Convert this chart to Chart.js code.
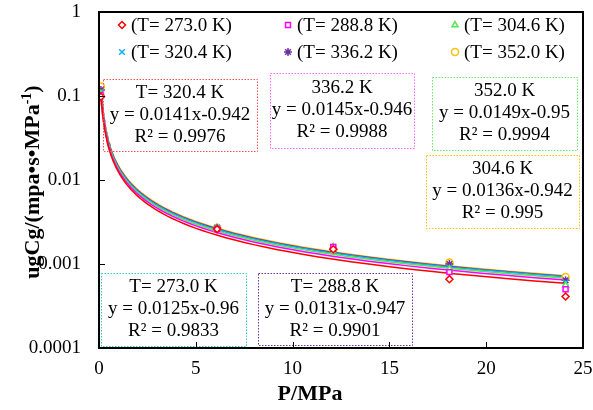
<!DOCTYPE html>
<html lang="en">
<head>
  <meta charset="UTF-8">
  <title>ugCg vs P</title>
  <script src="https://cdn.jsdelivr.net/npm/chart.js"></script>
  <style>
    body { margin: 0; background: #fff; }
    canvas { display: block; }
  </style>
</head>
<body>
<canvas id="chart" width="593" height="410"></canvas>
<script>
  // pressures (MPa) where the points were measured
  const pressures = [0.1, 6.1, 12.1, 18.1, 24.1];
  const temps = ['273.0', '288.8', '304.6', '320.4', '336.2', '352.0'];

  // ugCg values per temperature
  const vals273 = [0.098, 0.0026, 0.0015, 0.00066, 0.00041];
  const vals288 = [0.102, 0.0026, 0.0016, 0.00080, 0.00050];
  const vals304 = [0.106, 0.0026, 0.0016, 0.00087, 0.00056];
  const vals320 = [0.112, 0.0027, 0.0016, 0.00090, 0.00060];
  const vals336 = [0.118, 0.0027, 0.0015, 0.00100, 0.00064];
  const vals352 = [0.130, 0.0027, 0.0015, 0.00104, 0.00070];
  const seriesVals = [vals273, vals288, vals304, vals320, vals336, vals352];

  // power trendlines y = a * x^b as printed on the chart
  const fitA = [0.0125, 0.0131, 0.0136, 0.0141, 0.0145, 0.0149];
  const fitB = [-0.96, -0.947, -0.942, -0.942, -0.946, -0.95];
  const fitR2 = ['0.9833', '0.9901', '0.995', '0.9976', '0.9988', '0.9994'];
  const boxTitles = ['T= 273.0 K', 'T= 288.8 K', '304.6 K', 'T= 320.4 K', '336.2 K', '352.0 K'];

  const xTicks = [0, 5, 10, 15, 20, 25];
  const yTicks = [0.0001, 0.001, 0.01, 0.1, 1];

  const colors = ['#ff0000', '#ff00ff', '#55e655', '#12aef0', '#7030a0', '#ffc000'];
  const boxColors = ['#33cccc', '#7030a0', '#ffc000', '#ff5050', '#ff66ff', '#66ee66'];
  const styles = ['rectRot', 'rect', 'triangle', 'crossRot', 'star', 'circle'];
  // box placement in pixels: [left, top, right, bottom]
  const boxPos = [
    [101, 273, 246, 346],
    [258, 273, 412, 345],
    [426, 155, 579, 228],
    [103, 79, 257, 151],
    [270, 73, 414, 148],
    [432, 77, 577, 150]
  ];

  const serif = '"Liberation Serif", "Times New Roman", serif';

  // sample points along each trendline
  const trendX = [];
  for (let i = 0; i <= 80; i++) {
    trendX.push(0.1 * Math.pow(241, i / 80));
  }

  const datasets = [];
  temps.forEach((t, i) => {
    datasets.push({
      label: '(T= ' + t + ' K)',
      data: pressures.map((p, j) => ({ x: p, y: seriesVals[i][j] })),
      showLine: false,
      pointStyle: styles[i],
      pointRadius: styles[i] === 'crossRot' || styles[i] === 'star' ? 4 : 3.5,
      borderColor: colors[i],
      backgroundColor: '#fff',
      borderWidth: 1.5,
      order: 0
    });
  });
  temps.forEach((t, i) => {
    datasets.push({
      label: 'fit ' + t,
      data: trendX.map(x => ({ x: x, y: fitA[i] * Math.pow(x, fitB[i]) })),
      showLine: true,
      pointRadius: 0,
      borderColor: colors[i],
      borderWidth: 1.5,
      order: 1
    });
  });

  const decorations = {
    id: 'decorations',
    afterDraw(chart) {
      const ctx = chart.ctx;
      const a = chart.chartArea;
      const xs = chart.scales.x, ys = chart.scales.y;
      ctx.save();

      // trendline label boxes
      ctx.font = '19px ' + serif;
      ctx.textAlign = 'center';
      ctx.textBaseline = 'middle';
      boxPos.forEach((b, i) => {
        ctx.strokeStyle = boxColors[i];
        ctx.lineWidth = 1;
        ctx.setLineDash([1.5, 1.5]);
        ctx.strokeRect(b[0] + 0.5, b[1] + 0.5, b[2] - b[0], b[3] - b[1]);
        ctx.setLineDash([]);
        const cx = (b[0] + b[2]) / 2;
        const cy = (b[1] + b[3]) / 2;
        ctx.fillStyle = '#000';
        ctx.fillText(boxTitles[i], cx, cy - 22);
        ctx.fillText('y = ' + fitA[i] + 'x' + fitB[i], cx, cy);
        ctx.fillText('R\u00b2 = ' + fitR2[i], cx, cy + 22);
      });

      // frame and inward tick marks as filled bars
      const L = Math.round(a.left), R = Math.round(a.right);
      const T = Math.round(a.top), B = Math.round(a.bottom);
      ctx.fillStyle = '#000';
      ctx.fillRect(L - 1, T - 1, R - L + 2, 2);
      ctx.fillRect(L - 1, B - 1, R - L + 2, 2);
      ctx.fillRect(L - 1, T - 1, 2, B - T + 2);
      ctx.fillRect(R - 1, T - 1, 2, B - T + 2);
      xTicks.forEach(v => {
        const px = Math.round(xs.getPixelForValue(v));
        ctx.fillRect(px, B - 6, 1, 6);
      });
      yTicks.forEach(v => {
        const py = Math.round(ys.getPixelForValue(v));
        ctx.fillRect(L, py, 6, 1);
      });

      // legend inside the plot
      const colX = [122, 288, 455];
      const rowY = [25, 52];
      ctx.textAlign = 'left';
      temps.forEach((t, i) => {
        const x = colX[i % 3], y = rowY[Math.floor(i / 3)];
        ctx.strokeStyle = colors[i];
        ctx.fillStyle = '#fff';
        ctx.lineWidth = 1.5;
        Chart.helpers.drawPoint(ctx, {
          pointStyle: styles[i],
          radius: styles[i] === 'crossRot' || styles[i] === 'star' ? 4 : 3.5,
          rotation: 0,
          borderWidth: 1.5
        }, x, y);
        ctx.fillStyle = '#000';
        ctx.fillText('(T= ' + t + ' K)', x + 9, y + 1);
      });

      // axis titles
      ctx.fillStyle = '#000';
      ctx.font = 'bold 22px ' + serif;
      ctx.textAlign = 'center';
      ctx.fillText('P/MPa', 310, 394);

      ctx.translate(33, 182);
      ctx.rotate(-Math.PI / 2);
      const main = 'ugCg/(mpa\u2022s\u2022MPa';
      const sup = '-1';
      const tail = ')';
      ctx.font = 'bold 22px ' + serif;
      const w1 = ctx.measureText(main).width;
      const w3 = ctx.measureText(tail).width;
      ctx.font = 'bold 14px ' + serif;
      const w2 = ctx.measureText(sup).width;
      const x0 = -(w1 + w2 + w3) / 2;
      ctx.textAlign = 'left';
      ctx.font = 'bold 22px ' + serif;
      ctx.fillText(main, x0, 0);
      ctx.font = 'bold 14px ' + serif;
      ctx.fillText(sup, x0 + w1, -6);
      ctx.font = 'bold 22px ' + serif;
      ctx.fillText(tail, x0 + w1 + w2, 0);
      ctx.restore();
    }
  };

  new Chart(document.getElementById('chart'), {
    type: 'scatter',
    data: { datasets: datasets },
    plugins: [decorations],
    options: {
      responsive: false,
      devicePixelRatio: 1,
      animation: false,
      layout: { padding: { left: 0, top: 12, right: 10, bottom: 0 } },
      plugins: {
        legend: { display: false },
        tooltip: { enabled: false }
      },
      scales: {
        x: {
          type: 'linear',
          min: 0,
          max: 25,
          grid: { display: false, drawTicks: false },
          border: { display: false },
          ticks: { stepSize: 5, color: '#000', font: { family: serif, size: 19 }, padding: 10 },
          afterBuildTicks: s => { s.ticks = xTicks.map(v => ({ value: v })); },
          afterFit: s => { s.height = 62; s.paddingLeft = 0; s.paddingRight = 0; }
        },
        y: {
          type: 'logarithmic',
          min: 0.0001,
          max: 1,
          grid: { display: false, drawTicks: false },
          border: { display: false },
          ticks: {
            color: '#000',
            font: { family: serif, size: 19 },
            padding: 18,
            callback: v => String(v)
          },
          afterBuildTicks: s => { s.ticks = yTicks.map(v => ({ value: v })); },
          afterFit: s => { s.width = 99; s.paddingTop = 0; s.paddingBottom = 0; }
        }
      }
    }
  });
</script>
</body>
</html>
